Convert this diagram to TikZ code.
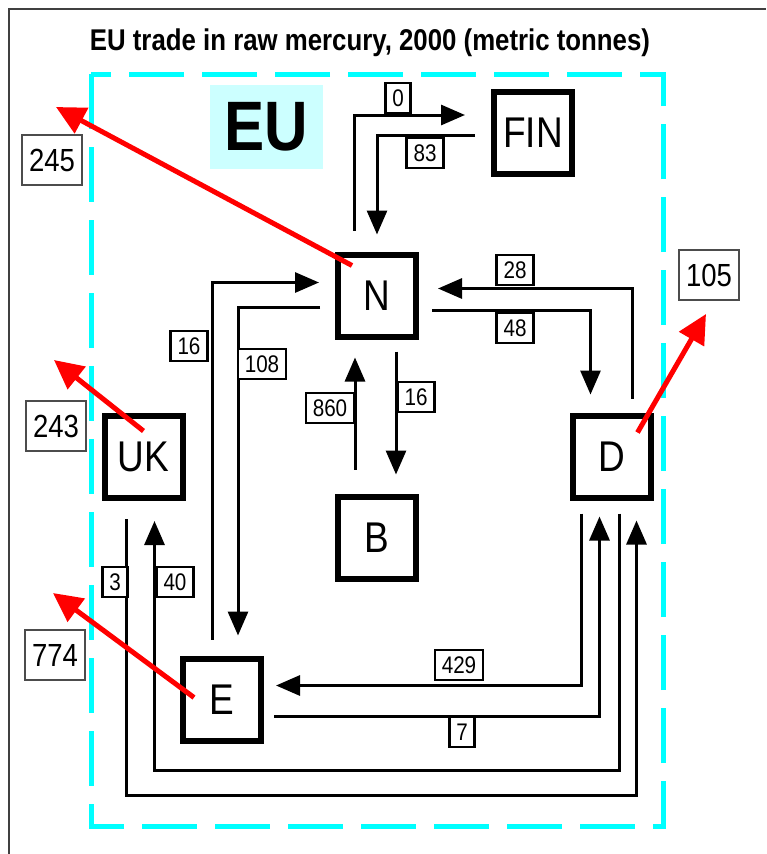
\documentclass[tikz,border=0pt]{standalone}
\usepackage{fontspec}
\setmainfont{Liberation Sans}[FakeStretch=0.86]
\usetikzlibrary{arrows.meta}

\definecolor{aqua}{RGB}{0,255,255}
\definecolor{paleaqua}{RGB}{204,255,255}

\tikzset{
  country/.style={draw, line width=6pt, minimum width=78pt, minimum height=82pt,
    inner sep=0pt, font=\fontsize{43}{48}\selectfont},
  qty/.style={draw, line width=2.5pt, fill=white, inner xsep=7pt, inner ysep=3pt,
    minimum height=30pt, font=\fontsize{24}{28}\selectfont},
  outside/.style={draw=black!70, line width=1.2pt, fill=white, inner xsep=7pt,
    minimum height=50pt, font=\fontsize{32}{36}\selectfont},
  flow/.style={line width=3pt, -{Triangle[length=24pt,width=20pt]}},
  export/.style={red, line width=5pt, -{Triangle[length=29pt,width=28pt]}},
}

\begin{document}
\begin{tikzpicture}[x=1pt,y=-1pt]
  \useasboundingbox (0,0) rectangle (766,854);
  % frame and EU border
  \draw[black!75, line width=1.5pt] (9,854) |- (766,9);
  \draw[aqua, line width=5pt, dash pattern=on 55pt off 18pt] (91,74) rectangle (663,826);
  \node[anchor=base, font=\bfseries\fontsize{30}{34}\selectfont] (Title) at (370,50)
    {EU trade in raw mercury, 2000 (metric tonnes)};
  \node[fill=paleaqua, minimum width=113pt, minimum height=84pt,
    font=\bfseries\fontsize{70}{76}\selectfont] (EU) at (266,127) {EU};

  % member states
  \node[country] (FIN) at (533,133) {FIN};
  \node[country] (N) at (377,295.5) {N};
  \node[country] (B) at (377,537.5) {B};
  \node[country] (UK) at (143.5,457) {UK};
  \node[country] (D) at (611.5,456.5) {D};
  \node[country] (E) at (222,699.5) {E};

  % flows inside the EU
  \draw[flow] ([xshift=-23pt,yshift=21pt]N.north) |- ([xshift=-26pt,yshift=18pt]FIN.west);
  \draw[flow] ([xshift=-16pt,yshift=-2pt]FIN.west) -| ([yshift=17pt]N.north);
  \draw[flow] ([xshift=-10pt,yshift=16pt]E.north) |- ([xshift=-16pt,yshift=13pt]N.west);
  \draw[flow] ([xshift=-15pt,yshift=-12pt]N.west) -| ([xshift=16pt,yshift=20pt]E.north);
  \draw[flow] ([xshift=-22pt,yshift=24pt]B.north) -- ([xshift=-22pt,yshift=-18pt]N.south);
  \draw[flow] ([xshift=19pt,yshift=-12pt]N.south) -- ([xshift=19pt,yshift=19pt]B.north);
  \draw[flow] ([xshift=21pt,yshift=14pt]D.north) |- ([xshift=19pt,yshift=7pt]N.east);
  \draw[flow] ([xshift=13pt,yshift=-15pt]N.east) -| ([xshift=-21pt,yshift=18pt]D.north);
  \draw[flow] ([xshift=-30pt,yshift=-13pt]D.south) |- ([xshift=12pt,yshift=14pt]E.east);
  \draw[flow] ([xshift=10pt,yshift=-17pt]E.east) -| ([xshift=-12pt,yshift=-16pt]D.south);
  \draw[flow] ([xshift=8pt,yshift=-13pt]D.south) -- ++(0,257) -| ([xshift=11pt,yshift=-20pt]UK.south);
  \draw[flow] ([xshift=-17pt,yshift=-18pt]UK.south) -- ++(0,276) -| ([xshift=25pt,yshift=-20pt]D.south);

  % quantities
  \node[qty] (q0) at (398,98) {0};
  \node[qty] (q83) at (425,153) {83};
  \node[qty] (q28) at (515,270) {28};
  \node[qty] (q48) at (515,328) {48};
  \node[qty] (q16a) at (189,346) {16};
  \node[qty] (q108) at (262,364) {108};
  \node[qty] (q860) at (330,408) {860};
  \node[qty] (q16b) at (416,397) {16};
  \node[qty] (q3) at (115,582) {3};
  \node[qty] (q40) at (175,582) {40};
  \node[qty] (q429) at (459,665) {429};
  \node[qty] (q7) at (462,732) {7};

  % exports out of the EU
  \node[outside] (x245) at (52,160) {245};
  \node[outside] (x243) at (56,426) {243};
  \node[outside] (x774) at (55,655) {774};
  \node[outside] (x105) at (709,275) {105};
  \coordinate (t245) at (56,107);
  \coordinate (t243) at (54,360);
  \coordinate (t774) at (53,593);
  \coordinate (t105) at (706,314);
  \draw[export] ([xshift=-25pt,yshift=30pt]N.center) -- (t245);
  \draw[export] ([yshift=26pt]UK.center) -- (t243);
  \draw[export] ([xshift=-28pt,yshift=2pt]E.center) -- (t774);
  \draw[export] ([xshift=26pt,yshift=24pt]D.center) -- (t105);
\end{tikzpicture}
\end{document}
